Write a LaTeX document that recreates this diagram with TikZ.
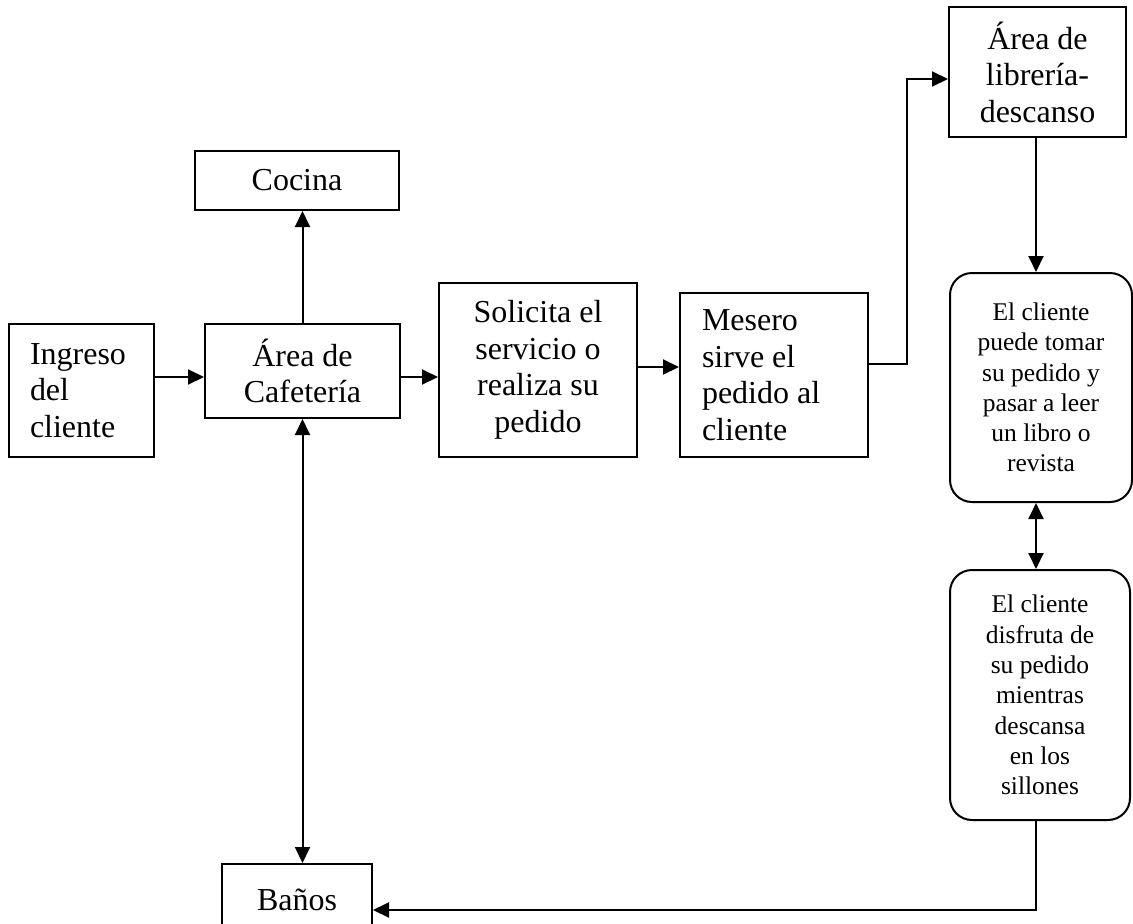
\documentclass[tikz,border=0pt]{standalone}
\usepackage{fontspec}
\setmainfont{Liberation Serif}
\usetikzlibrary{arrows.meta, positioning}
\tikzset{
  box/.style={
    draw, rectangle, line width=2pt,
    inner sep=0pt, align=center,
    font=\fontsize{32}{36.5}\selectfont
  },
  leftbox/.style={
    box, align=flush left, inner xsep=21pt
  },
  roundbox/.style={
    box, rounded corners=22pt,
    font=\fontsize{25.5}{30.3}\selectfont
  },
  arrow/.style={
    -{Triangle[length=16pt,width=15pt]}, line width=2pt
  },
  darrow/.style={
    {Triangle[length=16pt,width=15pt]}-{Triangle[length=16pt,width=15pt]}, line width=2pt
  }
}
\begin{document}
\begin{tikzpicture}[x=1pt, y=-1pt]
  \path[use as bounding box, clip] (0,0) rectangle (1133,924);

  % left part
  \node[leftbox, text width=103pt, minimum height=133pt] (ingreso) at (81.5,390.5) {Ingreso\\del\\cliente};
  \node[box, minimum width=195pt, minimum height=94pt] (cafeteria) at (302.5,371) {Área de\\Cafetería};
  \node[box, minimum width=204pt, minimum height=59pt] (cocina) at (297,180.5) {Cocina};
  \node[box, minimum width=150pt, minimum height=71pt] (banos) at (297,899.5) {Baños};

  % middle
  \node[box, minimum width=198pt, minimum height=174pt] (solicita) at (538,370) {Solicita el\\servicio o\\realiza su\\pedido};
  \node[leftbox, text width=144pt, inner xsep=22pt, minimum height=164pt] (mesero) at (774,375) {Mesero\\sirve el\\pedido al\\cliente};

  % right column
  \node[box, minimum width=177pt, minimum height=130pt] (libreria) at (1037.5,72) {Área de\\librería-\\descanso};
  \node[roundbox, minimum width=182pt, minimum height=229pt] (puede) at (1041,387.5) {El cliente\\puede tomar\\su pedido y\\pasar a leer\\un libro o\\revista};
  \node[roundbox, minimum width=180pt, minimum height=250pt] (disfruta) at (1040,695) {El cliente\\disfruta de\\su pedido\\mientras\\descansa\\en los\\sillones};

  \draw[arrow] ([yshift=13.5pt]ingreso.east) -- ([yshift=13.5pt]ingreso.east -| cafeteria.west);
  \draw[arrow] ([yshift=-6pt]cafeteria.east) -- ([yshift=-6pt]cafeteria.east -| solicita.west);
  \draw[arrow] ([yshift=3pt]solicita.east) -- ([yshift=3pt]solicita.east -| mesero.west);
  \draw[arrow] ([yshift=11pt]mesero.east) -- ++(38,0) |- ([yshift=-7pt]libreria.west);
  \draw[arrow] (cafeteria.north) -- (cafeteria.north |- cocina.south);
  \draw[darrow] (cafeteria.south) -- (cafeteria.south |- banos.north);
  \draw[arrow] ([xshift=-1.5pt]libreria.south) -- ([xshift=-1.5pt]libreria.south |- puede.north);
  \draw[darrow] ([xshift=-5pt]puede.south) -- ([xshift=-5pt]puede.south |- disfruta.north);
  \draw[arrow] ([xshift=-4pt]disfruta.south) |- ([yshift=-10.5pt]banos.east);
\end{tikzpicture}
\end{document}
